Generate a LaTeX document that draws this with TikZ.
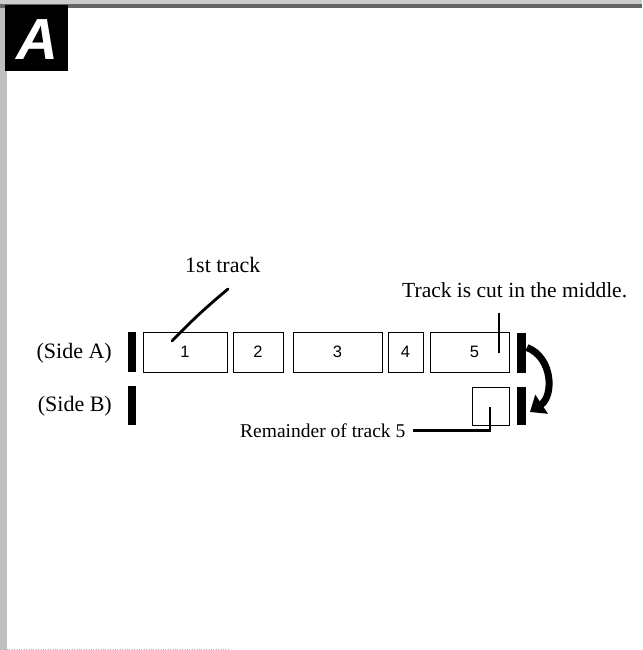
\documentclass[tikz,border=0pt]{standalone}
\usepackage{fontspec}
\usepackage{tikz}
\setmainfont{Liberation Serif}
\newfontfamily\numfont{Liberation Sans}
\usetikzlibrary{arrows.meta}

\tikzset{
  track/.style={draw, line width=0.8pt, minimum height=40pt, inner sep=0pt,
    font=\numfont\fontsize{16.5}{18}\selectfont},
  bar/.style={fill=black, minimum width=8.5pt, minimum height=40pt, inner sep=0pt},
  lbl/.style={inner sep=0pt, font=\fontsize{22}{26}\selectfont},
  pointer/.style={line width=2.8pt},
  flip/.style={line width=7pt, -{Triangle[length=14pt,width=22pt]}}
}

\begin{document}
\begin{tikzpicture}[x=1pt,y=-1pt]
\useasboundingbox (0,0) rectangle (642,650);
% scanned page edges
\fill[gray!50] (0,0) rectangle (7,650);
\fill[gray!40] (0,0) rectangle (642,4);
\fill[black!60] (0,4) rectangle (642,8);
\draw[gray!60, dotted] (7,649) -- (230,649);
% tag
\fill[black] (5,5) rectangle (68,71);
\node[white, inner sep=0pt, font=\numfont\bfseries\itshape\fontsize{58}{62}\selectfont] (tag) at (37,40) {A};
% side labels
\node[lbl, anchor=base east] (sa) at (112,358) {(Side A)};
\node[lbl, anchor=base east] (sb) at (112,411) {(Side B)};
% side A
\node[bar] (la) at (132,352) {};
\node[track, minimum width=84pt] (t1) at (185,352) {1};
\node[track, minimum width=50pt] (t2) at (258,352) {2};
\node[track, minimum width=89pt] (t3) at (337.5,352) {3};
\node[track, minimum width=35pt] (t4) at (405.5,352) {4};
\node[track, minimum width=79pt] (t5) at (469.5,352) {\hspace{10pt}5};
\node[bar] (ra) at (521.5,352.5) {};
% side B
\node[bar, minimum height=39pt] (lb) at (132,405.5) {};
\node[track, minimum width=37pt, minimum height=38pt] (rem) at (490.5,406) {};
\node[bar, minimum height=38pt] (rb) at (521.5,406) {};
% texts
\node[lbl, anchor=base west] (first) at (185,272) {1st track};
\node[lbl, anchor=base west, font=\fontsize{21.5}{26}\selectfont] (cut) at (402,297) {Track is cut in the middle.};
\node[lbl, anchor=base west, font=\fontsize{19.5}{23}\selectfont] (remlbl) at (240,437) {Remainder of track 5};
% pointers
\coordinate (p1a) at (228,289);
\coordinate (p1b) at (172,341);
\draw[pointer, line cap=round] (p1a) to[bend right=3] (p1b);
\coordinate (cutmark) at (499,313);
\draw[pointer] (cutmark) -- ++(0,40);
\coordinate (rcut) at (490,407);
\draw[pointer] (rcut) |- ([xshift=7pt]remlbl.east);
% turn over to side B
\draw[flip] ([xshift=1pt,yshift=5pt]ra.east) .. controls +(26,10) and +(24,-16) .. ([xshift=4pt,yshift=-6pt]rb.east);
\end{tikzpicture}
\end{document}
